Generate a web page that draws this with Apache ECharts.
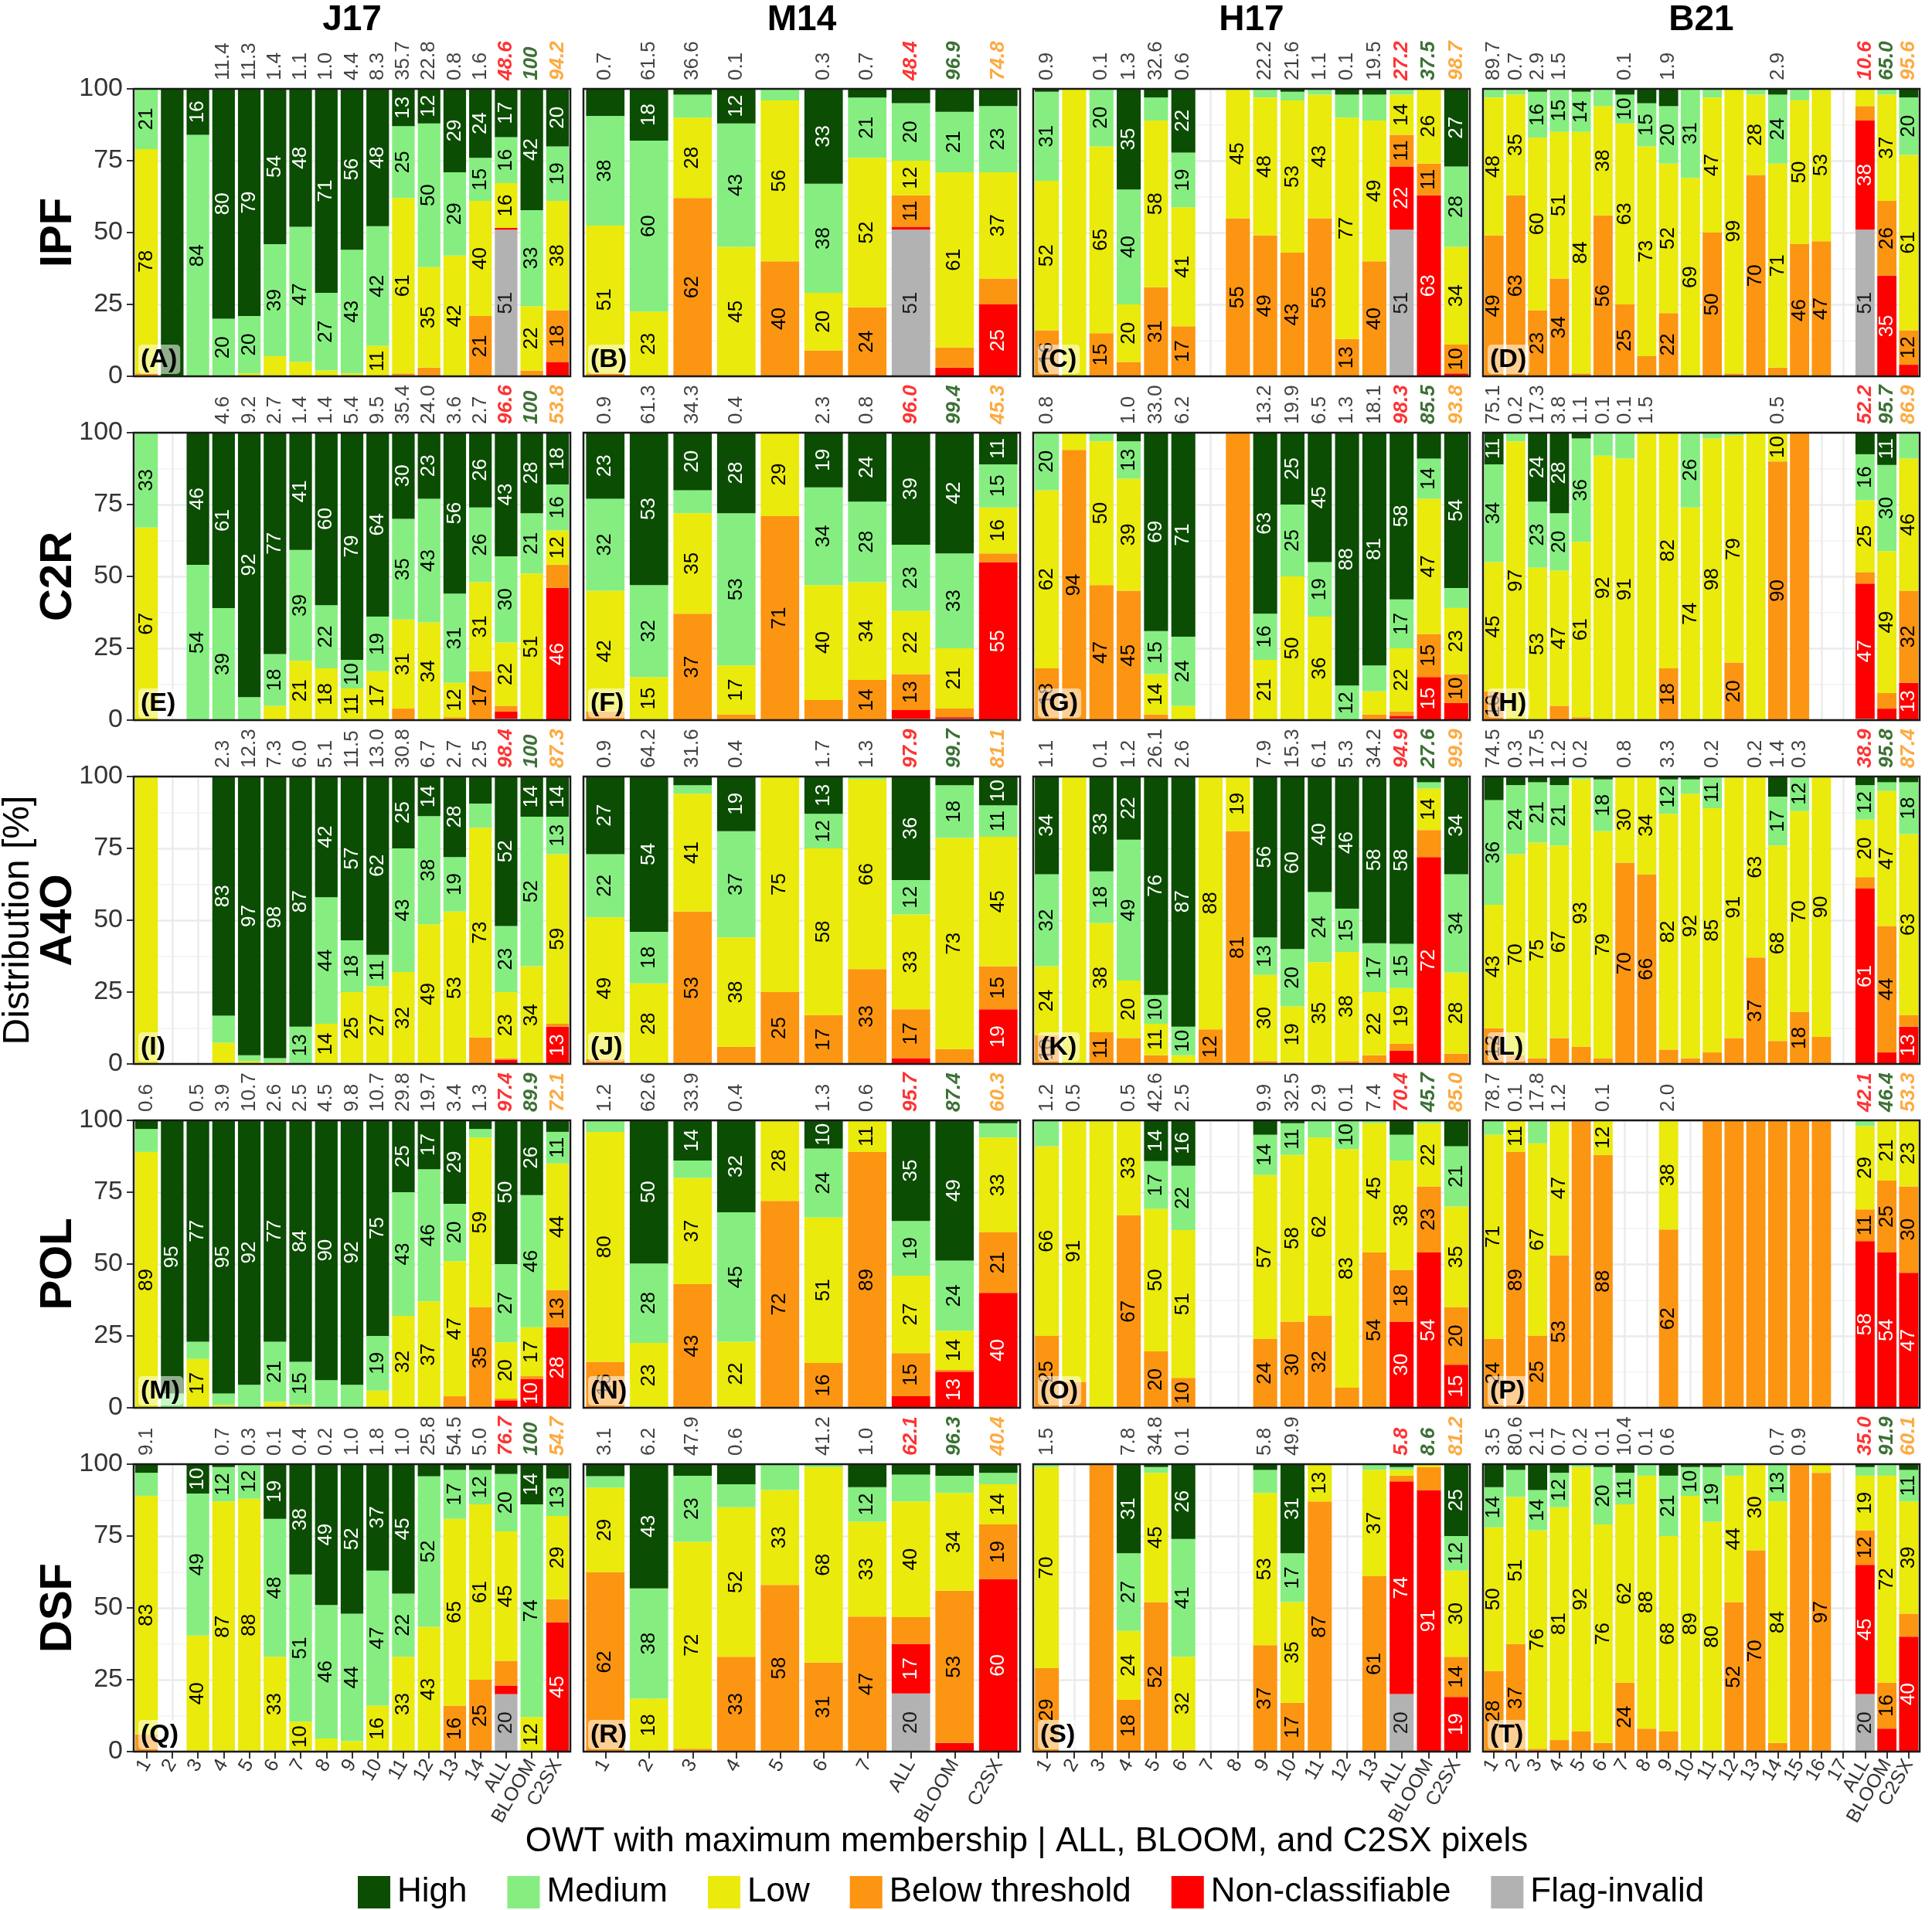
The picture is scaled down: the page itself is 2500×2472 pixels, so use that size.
<!DOCTYPE html>
<html><head><meta charset="utf-8">
<script src="https://cdn.jsdelivr.net/npm/echarts@6/dist/echarts.min.js"></script>
<style>html,body{margin:0;padding:0;background:#fff}#c{width:2500px;height:2472px}</style>
</head><body><div id="c"></div>
<script>
// ---------- categories ----------
const COLUMNS = ['J17', 'M14', 'H17', 'B21'];
const ROWS = ['IPF', 'C2R', 'A4O', 'POL', 'DSF'];
const CATS_J17 = ['1','2','3','4','5','6','7','8','9','10','11','12','13','14','ALL','BLOOM','C2SX'];
const CATS_M14 = ['1','2','3','4','5','6','7','ALL','BLOOM','C2SX'];
const CATS_H17 = ['1','2','3','4','5','6','7','8','9','10','11','12','13','ALL','BLOOM','C2SX'];
const CATS_B21 = ['1','2','3','4','5','6','7','8','9','10','11','12','13','14','15','16','17','ALL','BLOOM','C2SX'];
// stack order bottom -> top
const CLASSES = ['Flag-invalid', 'Non-classifiable', 'Below threshold', 'Low', 'Medium', 'High'];
const LEGEND_ORDER = ['High', 'Medium', 'Low', 'Below threshold', 'Non-classifiable', 'Flag-invalid'];

// ---------- values: each bar = [Flag-invalid, Non-classifiable, Below threshold, Low, Medium, High] ----------
// IPF
const IPF_J17 = [[0,0,1,78,21,0],[0,0,0,0,0,100],[0,0,0,0,84,16],[0,0,0,0,20,80],[0,0,0,1,20,79],[0,0,0,7,39,54],[0,0,0,5,47,48],[0,0,0,2,27,71],[0,0,0,1,43,56],[0,0,0,10.6,41.6,47.8],[0,0,1,61,25,13],[0,0,3,35,50,12],[0,0,0,42,29,29],[0,0,21,40,15,24],[51,0.6,0,15.6,16,16.8],[0,0,2,22.4,33.4,42.2],[0,5,18,38,19,20]];
const TOP_IPF_J17 = [null,null,null,11.4,11.3,1.4,1.1,1.0,4.4,8.3,35.7,22.8,0.8,1.6,48.6,100,94.2];
const IPF_M14 = [[0,0,1,51.4,38.2,9.4],[0,0,0,22.5,59.5,18],[0,0,62,28,8,2],[0,0,0,45,43,12],[0,0,40,56,4,0],[0,0,9,20,38,33],[0,0,24,52,21,3],[51,1,11,12,20,5],[0,3,7,61,21,8],[0,25,9,37,23,6]];
const TOP_IPF_M14 = [0.7,61.5,36.6,0.1,null,0.3,0.7,48.4,96.9,74.8];
const IPF_H17 = [[0,0,16,52,31,1],[0,0,0,100,0,0],[0,0,15,65,20,0],[0,0,5,20,40,35],[0,0,31,58,8,3],[0,0,17.4,41.4,19,22.2],null,[0,0,55,45,0,0],[0,0,49,48,3,0],[0,0,43,53,3,1],[0,0,55,43,2,0],[0,0,13,77,8,2],[0,0,40,49,9,2],[51,22,11,14,2,0],[0,63,11,26,0,0],[0,1,10,34,28,27]];
const TOP_IPF_H17 = [0.9,null,0.1,1.3,32.6,0.6,null,null,22.2,21.6,1.1,0.1,19.5,27.2,37.5,98.7];
const IPF_B21 = [[0,0,49,48,3,0],[0,0,63,35,2,0],[0,0,23,60,16,1],[0,0,34,51,15,0],[0,0,1,84,14,1],[0,0,56,38,6,0],[0,0,25,63,10,2],[0,0,7,73,15,5],[0,0,22,52,20,6],[0,0,0,69,31,0],[0,0,50,47,3,0],[0,0,1,99,0,0],[0,0,70,28,2,0],[0,0,3,71,24,2],[0,0,46,50,4,0],[0,0,47,53,0,0],null,[51,38,5,6,0,0],[0,35,26,37,2,0],[0,4,12,61,20,3]];
const TOP_IPF_B21 = [89.7,0.7,2.9,1.5,null,null,0.1,null,1.9,null,null,null,null,2.9,null,null,null,10.6,65.0,95.6];
// C2R
const C2R_J17 = [[0,0,0,67,33,0],null,[0,0,0,0,54,46],[0,0,0,0,39,61],[0,0,0,0,8,92],[0,0,0,5,18,77],[0,0,0,20.6,38.6,40.8],[0,0,0,18,22,60],[0,0,0,11,10,79],[0,0,0,17,19,64],[0,0,4,31,35,30],[0,0,0,34,43,23],[0,0,1,12,31,56],[0,0,17,31,26,26],[0.5,2.5,2,22,30,43],[0,0,0,51,21,28],[0,46,8,12,16,18]];
const TOP_C2R_J17 = [null,null,null,4.6,9.2,2.7,1.4,1.4,5.4,9.5,35.4,24.0,3.6,2.7,96.6,100,53.8];
const C2R_M14 = [[0,0,3,42,32,23],[0,0,0,15,32,53],[0,0,37,35,8,20],[0,0,2,17,53,28],[0,0,71,29,0,0],[0,0,7,40,34,19],[0,0,14,34,28,24],[0.5,3,12.5,22,23,39],[0.5,0.5,3,21,33,42],[0,55,3,16,15,11]];
const TOP_C2R_M14 = [0.9,61.3,34.3,0.4,null,2.3,0.8,96.0,99.4,45.3];
const C2R_H17 = [[0,0,18,62,20,0],[0,0,94,6,0,0],[0,0,47,50,3,0],[0,0,45,39,13,3],[0,0,2,14,15,69],[0,0,0,5,24,71],null,[0,0,100,0,0,0],[0,0,0,21,16,63],[0,0,0,50,25,25],[0,0,0,36,19,45],[0,0,0,0,12,88],[0,0,2,8,9,81],[0.5,1,1.5,22,17,58],[0,15,15,47,14,9],[0,6,10,23,7,54]];
const TOP_C2R_H17 = [0.8,null,null,1.0,33.0,6.2,null,null,13.2,19.9,6.5,1.3,18.1,98.3,85.5,93.8];
const C2R_B21 = [[0,0,10,45,34,11],[0,0,0,97,3,0],[0,0,0,53,23,24],[0,0,5,47,20,28],[0,0,1,61,36,2],[0,0,0,92,8,0],[0,0,0,91,9,0],[0,0,0,100,0,0],[0,0,18,82,0,0],[0,0,0,74,26,0],[0,0,0,98,2,0],[0,0,20,79,1,0],[0,0,0,100,0,0],[0,0,90,10,0,0],[0,0,100,0,0,0],null,null,[0.5,47,4,25,16,7.5],[0,4,5.4,49.4,30,11.2],[0,13,32,46,9,0]];
const TOP_C2R_B21 = [75.1,0.2,17.3,3.8,1.1,0.1,0.1,1.5,null,null,null,null,null,0.5,null,null,null,52.2,95.7,86.9];
// A4O
const A4O_J17 = [[0,0,0,100,0,0],null,null,[0,0,0,7.4,9.4,83.2],[0,0,0,1,2,97],[0,0,0,0.5,1.5,98],[0,0,0,0,13,87],[0,0,0,14,44,42],[0,0,0,25,18,57],[0,0,0,27,11,62],[0,0,0,32,43,25],[0,0,0,48.6,37.6,13.8],[0,0,0,53,19,28],[0,0,9.2,73,8.4,9.4],[0,1.5,0.5,23,23,52],[0,0,0,34,52,14],[0,13,1,59,13,14]];
const TOP_A4O_J17 = [null,null,null,2.3,12.3,7.3,6.0,5.1,11.5,13.0,30.8,6.7,2.7,2.5,98.4,100,87.3];
const A4O_M14 = [[0,0,1.6,49.4,22,27],[0,0,0,28,18,54],[0,0,53,41,3,3],[0,0,6,38,37,19],[0,0,25,75,0,0],[0,0,17,58,12,13],[0,0,33,66,1,0],[0,2,17,33,12,36],[0,0,5.2,73.4,18.4,3],[0,19,15,45,11,10]];
const TOP_A4O_M14 = [0.9,64.2,31.6,0.4,null,1.7,1.3,97.9,99.7,81.1];
const A4O_H17 = [[0,0,10,24,32,34],[0,0,0,100,0,0],[0,0,11,38,18,33],[0,0,9,20,49,22],[0,0,3,11,10,76],[0,0,0,3,10,87],[0,0,12,88,0,0],[0,0,81,19,0,0],[0,0,1,30,13,56],[0,0,0.6,19.4,20,60],[0,0,0,35.4,24.4,40.2],[0,0,1,38,15,46],[0,0,3,22,17,58],[0,4.6,2.4,19.4,15.4,58.2],[0,72,9.4,14.4,2.2,2],[0,0,3.6,28.2,34.2,34]];
const TOP_A4O_H17 = [1.1,null,0.1,1.2,26.1,2.6,null,null,7.9,15.3,6.1,5.3,34.2,94.9,27.6,99.9];
const A4O_B21 = [[0,0,12.4,43,36.4,8.2],[0,0,3,70,24,3],[0,0,2,75,21,2],[0,0,9,67,21,3],[0,0,6,93,1,0],[0,0,2,79,18,1],[0,0,70,30,0,0],[0,0,66,34,0,0],[0,0,5,82,12,1],[0,0,2,92,5,1],[0,0,4,85,11,0],[0,0,9,91,0,0],[0,0,37,63,0,0],[0,0,8,68,17,7],[0,0,18,70,12,0],[0,0,9.4,90.4,0.2,0],null,[0,61,4,20,12,3],[0,4,44,47,3,2],[0,13,4,63,18,2]];
const TOP_A4O_B21 = [74.5,0.3,17.5,1.2,0.2,null,0.8,null,3.3,null,0.2,null,0.2,1.4,0.3,null,null,38.9,95.8,87.4];
// POL
const POL_J17 = [[0,0,0,89,8,3],[0,0,0,0,5,95],[0,0,0,17,6,77],[0,0,0,1,4,95],[0,0,0,0,8,92],[0,0,0,2,21,77],[0,0,0,1,15,84],[0,0,0,0.2,9.4,90.4],[0,0,0,0,8,92],[0,0,0,6,19,75],[0,0,0,32,43,25],[0,0,0,37,46,17],[0,0,4,47,20,29],[0,0,35,59,3,3],[0,2.6,0.6,19.6,27.2,50],[0,10,1,17,46,26],[0,28,13,44,11,4]];
const TOP_POL_J17 = [0.6,null,0.5,3.9,10.7,2.6,2.5,4.5,9.8,10.7,29.8,19.7,3.4,1.3,97.4,89.9,72.1];
const POL_M14 = [[0,0,16,80,4,0],[0,0,0,22.6,27.6,49.8],[0,0,43,37,6,14],[0,0,0.6,22.4,45,32],[0,0,72,28,0,0],[0,0,15.6,50.6,24,9.8],[0,0,89,11,0,0],[0,4,15,27,19,35],[0,12.6,0.6,13.6,24.4,48.8],[0,40,21,33,5,1]];
const TOP_POL_M14 = [1.2,62.6,33.9,0.4,null,1.3,0.6,95.7,87.4,60.3];
const POL_H17 = [[0,0,25,66,9,0],[0,0,9,91,0,0],[0,0,0,100,0,0],[0,0,67,33,0,0],[0,0,19.6,49.6,16.6,14.2],[0,0,10.4,51.4,22.4,15.8],null,null,[0,0,24,57,14,5],[0,0,30,58,11,1],[0,0,32,62,6,0],[0,0,7,83,10,0],[0,0,54,45,1,0],[0,30,18,38,9,5],[0,54,23,22,1,0],[0,15,20,35,21,9]];
const TOP_POL_H17 = [1.2,0.5,null,0.5,42.6,2.5,null,null,9.9,32.5,2.9,0.1,7.4,70.4,45.7,85.0];
const POL_B21 = [[0,0,24,71,5,0],[0,0,89,11,0,0],[0,0,25,67,8,0],[0,0,53,47,0,0],[0,0,100,0,0,0],[0,0,88,12,0,0],null,null,[0,0,62,38,0,0],null,[0,0,100,0,0,0],[0,0,100,0,0,0],[0,0,100,0,0,0],[0,0,100,0,0,0],[0,0,100,0,0,0],[0,0,100,0,0,0],null,[0,58,11,29,2,0],[0,54,25,21,0,0],[0,47,30,23,0,0]];
const TOP_POL_B21 = [78.7,0.1,17.8,1.2,null,0.1,null,null,2.0,null,null,null,null,null,null,null,null,42.1,46.4,53.3];
// DSF
const DSF_J17 = [[0,0,6,83,8,3],null,[0,0,0,40.4,49.4,10.2],[0,0,0,87,12,1],[0,0,0,88,12,0],[0,0,0,33,48,19],[0,0,0,10.4,51.2,38.4],[0,0,0,4.6,46.4,49],[0,0,0,3.6,44.4,52],[0,0,0,16,47,37],[0,0,0,33,22,45],[0,0,0,43.4,52.4,4.2],[0,0,16,65,17,2],[0,0,25,61,12,2],[20,3,8.6,45,20,3.4],[0,0,0,12,74,14],[0,45,8,29,13,5]];
const TOP_DSF_J17 = [9.1,null,null,0.7,0.3,0.1,0.4,0.2,1.0,1.8,1.0,25.8,54.5,5.0,76.7,100,54.7];
const DSF_M14 = [[0,0,62.4,29.4,4,4.2],[0,0,0,18.4,38.4,43.2],[0,0,1,72,23,4],[0,0,33,52,8,7],[0,0,58,33,9,0],[0,0,31,68,1,0],[0,0,47,33,12,8],[20.2,17.2,9.4,40.2,9.4,3.6],[0,3,53,34,6,4],[0,60,19,14,4,3]];
const TOP_DSF_M14 = [3.1,6.2,47.9,0.6,null,41.2,1.0,62.1,96.3,40.4];
const DSF_H17 = [[0,0,29,70,1,0],null,[0,0,100,0,0,0],[0,0,18,24,27,31],[0,0,52,45,2,1],[0,0,0.6,32.4,41,26],null,null,[0,0,37,53,8,2],[0,0,17,35,17,31],[0,0,87,13,0,0],null,[0,0,61,37,2,0],[20,74,2,2,1,1],[0,91,8,1,0,0],[0,19,14,30,12,25]];
const TOP_DSF_H17 = [1.5,null,null,7.8,34.8,0.1,null,null,5.8,49.9,null,null,null,5.8,8.6,81.2];
const DSF_B21 = [[0,0,28,50,14,8],[0,0,37.4,51.2,9.4,2],[0,0,1,76,14,9],[0,0,4,81,12,3],[0,0,7,92,1,0],[0,0,3,76,20,1],[0,0,24,62,11,3],[0,0,8,88,4,0],[0,0,7,68,21,4],[0,0,0,89,10,1],[0,0,0,80,19,1],[0,0,52,44,4,0],[0,0,70,30,0,0],[0,0,3,84,13,0],[0,0,100,0,0,0],[0,0,97,3,0,0],null,[20,45,12,19,3,1],[0,8,16,72,4,0],[0,40,8,39,11,2]];
const TOP_DSF_B21 = [3.5,80.6,2.1,0.7,0.2,0.1,10.4,0.1,0.6,null,null,null,null,0.7,0.9,null,null,35.0,91.9,60.1];

// ---------- wiring tables ----------
const CATS = { J17: CATS_J17, M14: CATS_M14, H17: CATS_H17, B21: CATS_B21 };
const PANELS = {
  IPF: { J17: [IPF_J17, TOP_IPF_J17], M14: [IPF_M14, TOP_IPF_M14], H17: [IPF_H17, TOP_IPF_H17], B21: [IPF_B21, TOP_IPF_B21] },
  C2R: { J17: [C2R_J17, TOP_C2R_J17], M14: [C2R_M14, TOP_C2R_M14], H17: [C2R_H17, TOP_C2R_H17], B21: [C2R_B21, TOP_C2R_B21] },
  A4O: { J17: [A4O_J17, TOP_A4O_J17], M14: [A4O_M14, TOP_A4O_M14], H17: [A4O_H17, TOP_A4O_H17], B21: [A4O_B21, TOP_A4O_B21] },
  POL: { J17: [POL_J17, TOP_POL_J17], M14: [POL_M14, TOP_POL_M14], H17: [POL_H17, TOP_POL_H17], B21: [POL_B21, TOP_POL_B21] },
  DSF: { J17: [DSF_J17, TOP_DSF_J17], M14: [DSF_M14, TOP_DSF_M14], H17: [DSF_H17, TOP_DSF_H17], B21: [DSF_B21, TOP_DSF_B21] }
};

// ---------- styling / layout ----------
const FONT = 'Liberation Sans, Arial, Helvetica, sans-serif';
const CLASS_COLORS = ['#b2b2b2', '#fe0000', '#fc9512', '#eaea0c', '#86ee80', '#0b4d02'];
const CLASS_LABEL_COLORS = ['#1a1a1a', '#ffffff', '#000000', '#000000', '#000000', '#ffffff'];
const SPECIAL_TOP = [ { color: '#fe0000' }, { color: '#0b4d02' }, { color: '#fc9512' } ]; // ALL, BLOOM, C2SX
const GRID_LEFT = [173, 755, 1337, 1919];
const GRID_W = 565;
const GRID_TOP = [115, 560, 1005, 1450, 1895];
const GRID_H = 372;
const LETTERS = 'ABCDEFGHIJKLMNOPQRST';

const grids = [], xAxes = [], yAxes = [], series = [], graphics = [];
ROWS.forEach((row, r) => {
  COLUMNS.forEach((col, c) => {
    const gi = r * COLUMNS.length + c;
    const [bars, tops] = PANELS[row][col];
    const cats = CATS[col];
    const isBottom = r === ROWS.length - 1;
    const isLeft = c === 0;
    grids.push({ left: GRID_LEFT[c], top: GRID_TOP[r], width: GRID_W, height: GRID_H,
      show: true, backgroundColor: '#ffffff', borderWidth: 0 });
    xAxes.push({
      type: 'category', gridIndex: gi, data: cats, boundaryGap: true,
      axisLine: { show: false },
      axisTick: { show: isBottom, alignWithLabel: true, length: 9, lineStyle: { color: '#333', width: 2 } },
      axisLabel: { show: isBottom, interval: 0, rotate: 60, fontSize: 25, color: '#333333', margin: 12, fontFamily: FONT },
      splitLine: { show: true, interval: 0, alignWithLabel: true, lineStyle: { color: '#ebebeb', width: 2.5 } }
    });
    yAxes.push({
      type: 'value', gridIndex: gi, min: 0, max: 100, interval: 25,
      axisLine: { show: false },
      axisTick: { show: isLeft, length: 9, lineStyle: { color: '#333', width: 2 } },
      axisLabel: { show: isLeft, fontSize: 34, color: '#333333', margin: 14, fontFamily: FONT },
      splitLine: { show: true, lineStyle: { color: '#ebebeb', width: 2.5 } },
      minorTick: { show: false, splitNumber: 2 },
      minorSplitLine: { show: true, lineStyle: { color: '#f3f3f3', width: 1.5 } }
    });
    CLASSES.forEach((cls, k) => {
      series.push({
        type: 'bar', name: cls, xAxisIndex: gi, yAxisIndex: gi, stack: 'p' + gi,
        barCategoryGap: '12%',
        itemStyle: { color: CLASS_COLORS[k] },
        data: bars.map(b => (b ? b[k] : null)),
        label: {
          show: true, position: 'inside', rotate: 90, fontSize: 26, fontFamily: FONT,
          color: CLASS_LABEL_COLORS[k],
          formatter: p => (p.value >= 9.5 && p.value < 99.5) ? String(Math.round(p.value)) : ''
        },
        emphasis: { disabled: true }, animation: false
      });
    });
    const n = cats.length;
    series.push({
      type: 'scatter', name: 'pct' + gi, xAxisIndex: gi, yAxisIndex: gi, symbolSize: 0, clip: false, silent: true,
      data: tops.map((v, i) => {
        if (v == null) return null;
        const spec = i >= n - 3 ? SPECIAL_TOP[i - (n - 3)] : null;
        return {
          value: [i, 100], txt: v === 100 ? '100' : v.toFixed(1),
          label: spec ? { color: spec.color, fontWeight: 'bold', fontStyle: 'italic' } : {}
        };
      }),
      label: {
        show: true, position: 'top', distance: 11, rotate: 90, align: 'left', verticalAlign: 'middle',
        fontSize: 26, fontFamily: FONT, color: '#111111',
        formatter: p => p.data.txt
      },
      animation: false
    });
    // panel border
    graphics.push({ type: 'rect', z: 100, silent: true,
      shape: { x: GRID_LEFT[c], y: GRID_TOP[r], width: GRID_W, height: GRID_H },
      style: { fill: 'none', stroke: '#1a1a1a', lineWidth: 2.5 } });
    // panel letter
    graphics.push({ type: 'text', z: 101, silent: true, x: GRID_LEFT[c] + 6, y: GRID_TOP[r] + GRID_H - 3,
      style: { text: '(' + LETTERS[gi] + ')', font: 'bold 34px ' + FONT, fill: '#000',
        align: 'left', verticalAlign: 'bottom', backgroundColor: 'rgba(255,255,255,0.55)',
        padding: [3, 4, 1, 3], borderRadius: 5 } });
  });
});

// column titles
COLUMNS.forEach((col, c) => graphics.push({ type: 'text', silent: true, x: GRID_LEFT[c] + GRID_W / 2, y: 26,
  style: { text: col, font: 'bold 46px ' + FONT, fill: '#000', align: 'center', verticalAlign: 'middle' } }));
// row titles
ROWS.forEach((row, r) => graphics.push({ type: 'text', silent: true, x: 76, y: GRID_TOP[r] + GRID_H / 2, rotation: Math.PI / 2,
  style: { text: row, font: 'bold 58px ' + FONT, fill: '#000', align: 'center', verticalAlign: 'middle' } }));
// y title
graphics.push({ type: 'text', silent: true, x: 24, y: (GRID_TOP[0] + GRID_TOP[4] + GRID_H) / 2, rotation: Math.PI / 2,
  style: { text: 'Distribution [%]', font: '48px ' + FONT, fill: '#000', align: 'center', verticalAlign: 'middle' } });
// x title
graphics.push({ type: 'text', silent: true, x: (GRID_LEFT[0] + GRID_LEFT[3] + GRID_W) / 2, y: 2384,
  style: { text: 'OWT with maximum membership | ALL, BLOOM, and C2SX pixels', font: '44px ' + FONT, fill: '#000', align: 'center', verticalAlign: 'middle' } });

const chart = echarts.init(document.getElementById('c'), null, { renderer: 'canvas' });
chart.setOption({
  animation: false,
  backgroundColor: '#ffffff',
  textStyle: { fontFamily: FONT },
  grid: grids, xAxis: xAxes, yAxis: yAxes, series: series,
  legend: {
    data: LEGEND_ORDER, top: 2422, left: 458, icon: 'rect', itemWidth: 42, itemHeight: 42, itemGap: 52,
    textStyle: { fontSize: 44, color: '#000', fontFamily: FONT, padding: [0, 0, 0, 4] }, selectedMode: false
  },
  graphic: graphics
});
</script>
</body></html>
